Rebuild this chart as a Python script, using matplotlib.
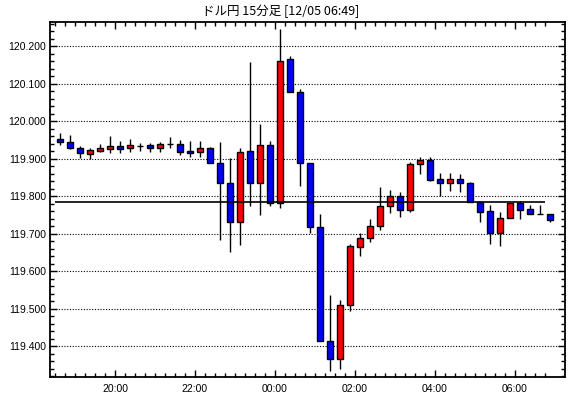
import matplotlib
matplotlib.use("Agg")
import matplotlib.pyplot as plt
from matplotlib.patches import Rectangle
from matplotlib.ticker import MultipleLocator, FixedLocator

title = "ドル円 15分足 [12/05 06:49]"

opens = [119.953, 119.944, 119.928, 119.914, 119.922, 119.927, 119.933, 119.928, 119.933, 119.936,
         119.930, 119.939, 119.939, 119.920, 119.919, 119.928, 119.888, 119.835, 119.731, 119.921,
         119.835, 119.936, 119.781, 120.165, 120.077, 119.890, 119.719, 119.415, 119.367, 119.509,
         119.666, 119.688, 119.720, 119.773, 119.800, 119.764, 119.885, 119.896, 119.845, 119.835,
         119.845, 119.835, 119.786, 119.760, 119.701, 119.741, 119.783, 119.765, 119.752, 119.752]
closes = [119.944, 119.928, 119.915, 119.923, 119.928, 119.933, 119.927, 119.936, 119.933, 119.930,
          119.939, 119.939, 119.917, 119.916, 119.928, 119.888, 119.835, 119.731, 119.917, 119.835,
          119.936, 119.781, 120.161, 120.077, 119.890, 119.719, 119.415, 119.367, 119.509, 119.667,
          119.688, 119.720, 119.773, 119.800, 119.764, 119.885, 119.897, 119.844, 119.835, 119.845,
          119.835, 119.786, 119.759, 119.701, 119.741, 119.783, 119.764, 119.752, 119.752, 119.736]
highs = [119.969, 119.963, 119.934, 119.930, 119.939, 119.961, 119.947, 119.952, 119.941, 119.941,
         119.944, 119.958, 119.950, 119.948, 119.948, 119.931, 119.945, 119.903, 119.930, 120.158,
         119.993, 119.947, 120.246, 120.174, 120.086, 119.890, 119.753, 119.537, 119.523, 119.673,
         119.701, 119.739, 119.826, 119.817, 119.811, 119.891, 119.904, 119.904, 119.861, 119.861,
         119.859, 119.837, 119.788, 119.776, 119.759, 119.783, 119.787, 119.777, 119.777, 119.752]
lows = [119.937, 119.925, 119.903, 119.899, 119.919, 119.915, 119.915, 119.919, 119.922, 119.919,
        119.917, 119.930, 119.911, 119.906, 119.906, 119.888, 119.684, 119.652, 119.670, 119.775,
        119.751, 119.775, 119.770, 120.077, 119.828, 119.703, 119.415, 119.335, 119.339, 119.494,
        119.641, 119.679, 119.710, 119.756, 119.746, 119.759, 119.859, 119.842, 119.800, 119.815,
        119.812, 119.786, 119.732, 119.673, 119.668, 119.741, 119.740, 119.752, 119.752, 119.732]

ref_price = 119.784
time_labels = ["20:00", "22:00", "00:00", "02:00", "04:00", "06:00"]
time_label_index = [6, 14, 22, 30, 38, 46]   # candle index of each hh:00 bar

UP = "#FF0000"
DOWN = "#0000FF"

fig = plt.figure(figsize=(5.70, 3.98), dpi=100)
ax = fig.add_axes([50 / 570, 1 - 377 / 398, (565 - 50) / 570, (377 - 22) / 398])

n = len(opens)
w = 0.66
for i in range(n):
    o, c, h, l = opens[i], closes[i], highs[i], lows[i]
    ax.vlines(i, l, h, color="black", lw=1.0, zorder=2)
    if c == o:
        ax.hlines(o, i - w / 2, i + w / 2, color="black", lw=1.0, zorder=3)
    else:
        col = UP if c > o else DOWN
        ax.add_patch(Rectangle((i - w / 2, min(o, c)), w, abs(c - o),
                               facecolor=col, edgecolor="black", lw=1.0, zorder=3))

ax.hlines(ref_price, -0.5, n - 1.5, color="black", lw=1.2, zorder=4)

ax.set_xlim(-1.0, 50.5)
ax.set_ylim(119.318, 120.265)

# y grid and ticks
ax.yaxis.set_major_locator(MultipleLocator(0.1))
ax.yaxis.set_minor_locator(MultipleLocator(0.02))
ax.yaxis.set_major_formatter(matplotlib.ticker.FuncFormatter(lambda v, p: f"{v:.3f}"))
ax.grid(axis="y", which="major", color="black", lw=0.8, linestyle=(0, (1, 1.5)))
ax.set_axisbelow(True)

ax.xaxis.set_major_locator(FixedLocator([k - 0.5 for k in time_label_index]))
ax.set_xticklabels(time_labels)
ax.xaxis.set_minor_locator(FixedLocator([k - 0.5 for k in range(0, n)]))

ax.tick_params(which="both", direction="in", top=True, right=True, color="black", width=1.0)
ax.tick_params(which="major", length=5, labelsize=7.5, pad=3)
ax.tick_params(which="minor", length=3)
for lab in ax.get_xticklabels() + ax.get_yticklabels():
    lab.set_family("Liberation Sans")
ax.tick_params(axis="x", pad=5)

for s in ax.spines.values():
    s.set_linewidth(1.3)
    s.set_color("black")

fig.text(0.493, 1 - 11 / 398, title, ha="center", va="center", fontsize=9,
         family=["Noto Sans CJK JP", "DejaVu Sans"])

fig.savefig("out.png", dpi=100)
